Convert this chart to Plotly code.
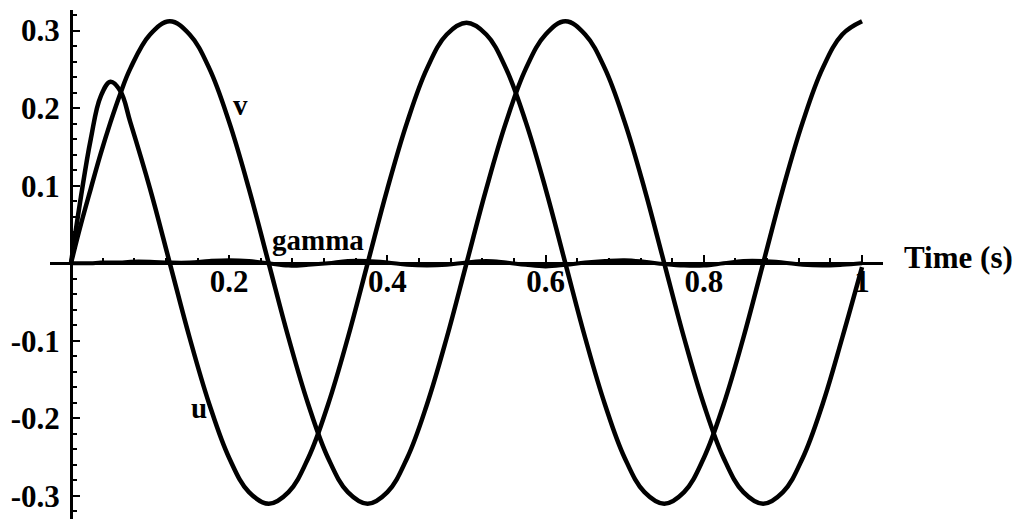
import plotly.graph_objects as go

# time samples (s)
time = [0, 0.0125, 0.025, 0.0375, 0.05, 0.0625, 0.075,
        0.1, 0.125, 0.15, 0.175, 0.2, 0.225, 0.25, 0.275, 0.3, 0.325,
        0.35, 0.375, 0.4, 0.425, 0.45, 0.475, 0.5, 0.525, 0.55, 0.575,
        0.6, 0.625, 0.65, 0.675, 0.7, 0.725, 0.75, 0.775, 0.8, 0.825,
        0.85, 0.875, 0.9, 0.925, 0.95, 0.975, 1.0]

u = [0, 0.085, 0.16, 0.215, 0.234, 0.222, 0.182,
     0.096, 0, -0.096, -0.182, -0.251, -0.295, -0.31, -0.295, -0.251, -0.182,
     -0.096, 0, 0.096, 0.182, 0.251, 0.295, 0.31, 0.295, 0.251, 0.182,
     0.096, 0, -0.096, -0.182, -0.251, -0.295, -0.31, -0.295, -0.251, -0.182,
     -0.096, 0, 0.096, 0.182, 0.251, 0.295, 0.312]

v = [0, 0.05, 0.096, 0.141, 0.182, 0.219, 0.251,
     0.295, 0.312, 0.295, 0.251, 0.182, 0.096, 0, -0.096, -0.182, -0.251,
     -0.295, -0.31, -0.295, -0.251, -0.182, -0.096, 0, 0.096, 0.182, 0.251,
     0.295, 0.312, 0.295, 0.251, 0.182, 0.096, 0, -0.096, -0.182, -0.251,
     -0.295, -0.31, -0.295, -0.251, -0.182, -0.096, -0.005]

gamma = [0, 0, 0, 0.001, 0.001, 0.001, 0.002,
         0.002, 0.001, 0.001, 0.003, 0.004, 0.003, 0, -0.003, -0.002, 0,
         0.003, 0.003, 0.001, -0.002, -0.003, -0.002, 0.001, 0.003, 0.001, -0.002,
         -0.004, -0.002, 0.001, 0.003, 0.004, 0.002, -0.001, -0.003, -0.003, 0,
         0.003, 0.003, 0.001, -0.002, -0.003, -0.002, 0]

x_ticks = [0.2, 0.4, 0.6, 0.8, 1.0]
x_ticktext = ["0.2", "0.4", "0.6", "0.8", "1"]
y_ticks = [-0.3, -0.2, -0.1, 0.1, 0.2, 0.3]
y_ticktext = ["-0.3", "-0.2", "-0.1", "0.1", "0.2", "0.3"]

# curve labels: (text, t, value)
labels = [("v", 0.214, 0.204), ("u", 0.162, -0.187), ("gamma", 0.312, 0.030)]

X_RANGE = [-0.0265, 1.0265]
Y_RANGE = [-0.3297, 0.3266]
SERIF = "Liberation Serif"

fig = go.Figure()
for name, ys, w in [("u", u, 4.5), ("v", v, 4.5), ("gamma", gamma, 4)]:
    fig.add_trace(go.Scatter(x=time, y=ys, mode="lines", name=name,
                             line=dict(color="black", width=w, shape="spline", smoothing=1.1)))

for text, tx, ty in labels:
    fig.add_annotation(x=tx, y=ty, text=text, showarrow=False,
                       font=dict(family=SERIF, size=29, color="black", weight="bold"))

fig.add_annotation(xref="paper", x=1.0228, y=0.007, text="Time (s)", showarrow=False,
                   xanchor="left", yanchor="middle",
                   font=dict(family=SERIF, size=31, color="black", weight="bold"))

# axes cross at the origin, Mathematica style
x_pos = (0 - Y_RANGE[0]) / (Y_RANGE[1] - Y_RANGE[0])
y_pos = (0 - X_RANGE[0]) / (X_RANGE[1] - X_RANGE[0])

# page body has an 8px margin, so the figure is 8px smaller
fig.update_layout(
    width=1015, height=511,
    margin=dict(l=42, r=140, t=2, b=0),
    paper_bgcolor="white", plot_bgcolor="white",
    showlegend=False,
    xaxis=dict(range=X_RANGE, anchor="free", position=x_pos, automargin=False,
               showline=True, linecolor="black", linewidth=3,
               showgrid=False, zeroline=False,
               ticks="inside", ticklen=7, tickwidth=2, tickcolor="black",
               tickvals=x_ticks, ticktext=x_ticktext, ticklabelstandoff=-10,
               tickfont=dict(family=SERIF, size=31, color="black", weight="bold"),
               minor=dict(dtick=0.04, tick0=0, ticks="inside", ticklen=4,
                          tickwidth=1.5, tickcolor="black", showgrid=False)),
    yaxis=dict(range=Y_RANGE, anchor="free", position=y_pos, automargin=False,
               showline=True, linecolor="black", linewidth=3,
               showgrid=False, zeroline=False,
               ticks="inside", ticklen=7, tickwidth=2, tickcolor="black",
               tickvals=y_ticks, ticktext=y_ticktext, ticklabelstandoff=4,
               tickfont=dict(family=SERIF, size=31, color="black", weight="bold"),
               minor=dict(dtick=0.02, tick0=0, ticks="inside", ticklen=4,
                          tickwidth=1.5, tickcolor="black", showgrid=False)),
)

fig.write_html("out.html")
